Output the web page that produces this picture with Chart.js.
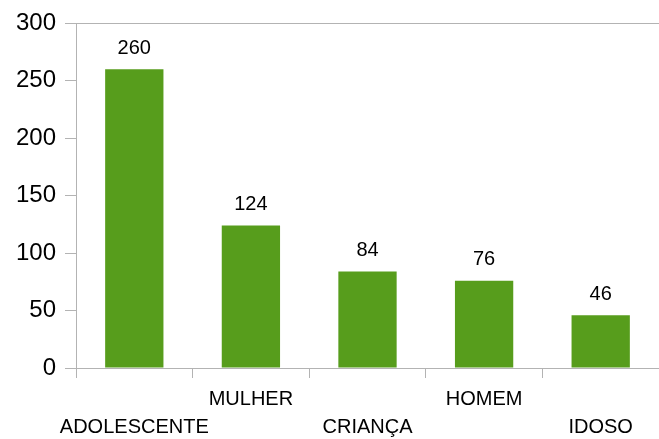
<!DOCTYPE html>
<html>
<head>
<meta charset="utf-8">
<script src="https://cdn.jsdelivr.net/npm/chart.js@4.4.1/dist/chart.umd.min.js"></script>
<style>
  html, body { margin: 0; padding: 0; background: #ffffff; }
  #wrap { width: 659px; height: 439px; }
</style>
</head>
<body>
<div id="wrap"><canvas id="barChart"></canvas></div>
<script>
const categories = ['ADOLESCENTE', 'MULHER', 'CRIANÇA', 'HOMEM', 'IDOSO'];
const counts = [260, 124, 84, 76, 46];
const yTicks = [0, 50, 100, 150, 200, 250, 300];

const axisGray = '#b3b3b3';
const fontFamily = '"Liberation Sans", Arial, sans-serif';

// value labels above each bar
const valueLabels = {
  id: 'valueLabels',
  afterDatasetsDraw(chart) {
    const ctx = chart.ctx;
    const meta = chart.getDatasetMeta(0);
    ctx.save();
    ctx.font = '20px ' + fontFamily;
    ctx.fillStyle = '#000000';
    ctx.textAlign = 'center';
    ctx.textBaseline = 'bottom';
    meta.data.forEach(function(bar, i) {
      ctx.fillText(String(counts[i]), bar.x, bar.y - 11);
    });
    ctx.restore();
  }
};

const ctx = document.getElementById('barChart').getContext('2d');
new Chart(ctx, {
  type: 'bar',
  data: {
    // alternate labels on two rows
    labels: categories.map((c, i) => i % 2 === 0 ? ['', c] : [c, '']),
    datasets: [{
      data: counts,
      backgroundColor: '#579d1c',
      borderWidth: 0,
      categoryPercentage: 1,
      barPercentage: 0.5
    }]
  },
  options: {
    responsive: true,
    maintainAspectRatio: false,
    animation: false,
    layout: { padding: { top: 23, right: 0, left: 0, bottom: 0 } },
    plugins: {
      legend: { display: false },
      tooltip: { enabled: false }
    },
    scales: {
      x: {
        border: { color: axisGray, width: 1 },
        grid: {
          offset: true,
          drawOnChartArea: false,
          drawTicks: true,
          tickLength: 10,
          tickColor: axisGray
        },
        ticks: {
          autoSkip: false,
          maxRotation: 0,
          padding: 7,
          color: '#000000',
          font: { family: fontFamily, size: 20, lineHeight: 1.4 }
        },
        afterFit: function(scale) { scale.height = 71; }
      },
      y: {
        min: 0,
        max: 300,
        border: { color: axisGray, width: 1 },
        afterBuildTicks: function(scale) {
          scale.ticks = yTicks.map(v => ({ value: v }));
        },
        grid: {
          color: function(c) { return c.tick && c.tick.value === 300 ? axisGray : 'rgba(0,0,0,0)'; },
          tickColor: axisGray,
          drawTicks: true,
          tickLength: 11
        },
        ticks: {
          padding: 9,
          color: '#000000',
          font: { family: fontFamily, size: 24 }
        },
        afterFit: function(scale) { scale.width = 76; }
      }
    }
  },
  plugins: [valueLabels]
});
</script>
</body>
</html>
